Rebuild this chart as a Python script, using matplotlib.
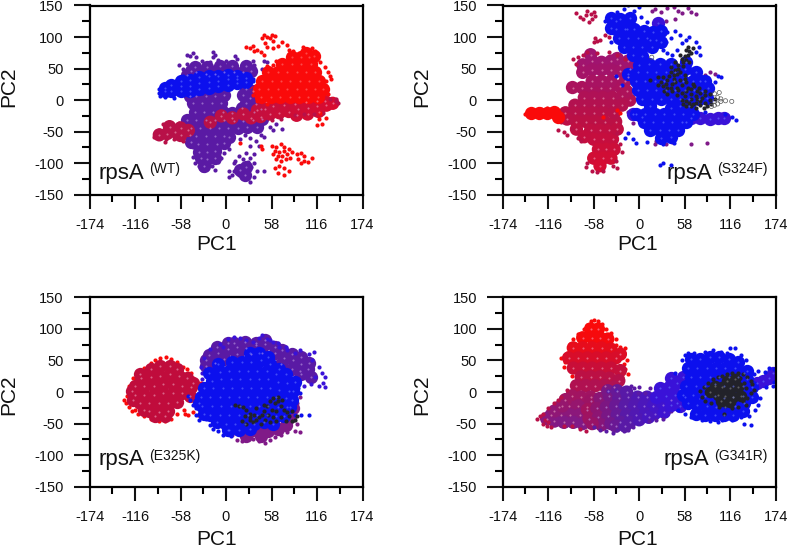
#!/usr/bin/env python3
# PCA scatter panels for the four rpsA variants
import matplotlib
matplotlib.use('Agg')
import matplotlib.pyplot as plt
from matplotlib.colors import LinearSegmentedColormap

plt.rcParams['font.family'] = ['Liberation Sans', 'DejaVu Sans']
plt.rcParams['axes.unicode_minus'] = False

RED = '#fa0a0a'
CRIMSON = '#b81048'
MAGENTA = '#801a88'
PURPLE = '#5a1aa4'
BLUE = '#0c10ee'
INDIGO = '#3a12d8'
BLACK = '#22222a'

x_ticks = [-174, -116, -58, 0, 58, 116, 174]
y_ticks = [-150, -100, -50, 0, 50, 100, 150]

# ---- WT
wt_purple_core = [(-50,40),(-38,44),(-26,42),(-14,42),(-2,44),(10,44),(22,44),(32,46),(-45,46),
    (-38,6),(-26,6),(-14,6),(-2,8),(22,8),(30,4),(-42,-5),(-30,-5),(-18,-5),(-6,-5),(25,-5),
    (-40,-18),(-28,-18),(-16,-18),(-4,-18),(8,-20),(-50,-31),(-38,-31),(-26,-31),(-14,-31),(-2,-31),(10,-33),
    (22,-33),(34,-31),(46,-30),(-45,-44),(-33,-44),(-21,-44),(-9,-44),(3,-44),(15,-44),(27,-42),(39,-42),
    (-38,-57),(-26,-57),(-14,-57),(-2,-57),(-36,-70),(-24,-70),(-12,-70),(-2,-68),(-34,-82),(-24,-82),(-14,-80),
    (-32,-92),(-24,-94),(18,-110),(26,-106),(24,-118),
    (4,-58),(-46,-56),(-44,-66),(36,-18),(44,-14),(20,-12),(-46,6),(38,-6),(-28,-104),(-14,-92),(34,14),(26,18),
    (-40,52),(-24,52),(-8,54),(8,54),(26,54)]
wt_purple_dots = [(-50,72),(-46,70),(-42,75),(-38,68),(-30,62),(-20,60),(-16,76),(-17,68),(-14,72),(-10,64),(-6,58),
    (0,62),(8,60),(12,70),(14,66),(20,56),(26,60),(34,62),(36,56),(48,62),(52,60),(46,50),(-60,55),(-55,50),
    (-50,57),(-36,58),(-26,55),(-12,55),(12,55),(-48,-62),(-50,-55),(-42,-75),(-42,-90),(-40,-100),(-34,-104),
    (-30,-110),(-24,-106),(-18,-104),(-14,-110),(-10,-98),(-6,-92),(-2,-84),(4,-78),(10,-100),(14,-108),(8,-118),
    (4,-122),(16,-118),(22,-124),(30,-130),(36,-122),(40,-112),(48,-112),(30,-92),(36,-85),(30,-72),(38,-65),
    (42,-72),(30,-60),(48,-58),(60,-48),(72,-46),(64,-38),(18,-62),(24,-55),(44,-55),(56,-42),(12,-96),(22,-94),
    (28,-98),(32,-106),(16,-88),(26,-84),(36,-100),(4,-112),(10,-112)]
wt_crimson_core = [(-85,-55),(-75,-53),(-65,-50),(-72,-42),(-58,-44),(-48,-48),(-58,-56),
    (32,-28),(44,-26),(56,-22),(68,-20),(80,-18),(92,-14),(104,-12),(116,-10),(128,-8),(136,-5),
    (-6,-25),(8,-28),(22,-22),(74,-8),(88,-6),(102,-3),(116,-2),(126,-2),
    (60,-10),(50,-14),(40,-16),(90,-24),(104,-22),(118,-18),(-20,-35)]
wt_crimson_dots = [(-92,-58),(-90,-52),(-85,-48),(-80,-38),(-76,-62),(-72,-36),(-66,-62),(-55,-65),(-78,-66),
    (-60,-36),(140,-2),(143,-5),(140,2),(132,2),(100,-22),(112,-22),(124,-20),(88,-24),(70,-30),(58,-32)]
wt_red_core = [(45,5),(57,5),(69,5),(81,5),(93,5),(105,5),(117,5),(42,18),(54,18),(66,18),(78,18),(90,18),
    (102,18),(114,18),(124,18),(46,31),(58,31),(70,31),(82,31),(94,31),(106,31),(118,31),(54,44),(66,44),
    (78,44),(90,44),(102,44),(114,44),(72,57),(84,57),(96,57),(108,57),(84,68),(96,68),(106,68),(102,74),(112,70)]
wt_red_dots = [(26,84),(30,82),(34,86),(36,78),(40,80),(44,76),(48,72),(50,90),(46,98),(48,104),(52,100),(56,98),
    (58,104),(62,102),(60,94),(52,84),(60,82),(66,86),(72,92),(78,88),(80,80),(86,78),(98,84),(104,80),(110,82),
    (114,78),(116,70),(120,60),(126,52),(130,45),(132,38),(128,30),(134,34),(36,14),(30,22),(34,8),(40,-2),(52,-6),
    (124,8),(130,10),(120,-20),(118,-30),(122,-38),(116,-40),(128,-28),(60,56),(52,54),(64,62),
    (58,-72),(64,-74),(70,-70),(74,-74),(62,-80),(68,-82),(74,-80),(80,-78),(60,-86),(66,-88),(72,-88),(78,-86),
    (84,-82),(90,-86),(64,-94),(70,-96),(76,-94),(82,-92),(96,-84),(100,-88),(92,-94),(100,-96),(110,-92),(104,-98),
    (68,-104),(74,-108),(80,-112),(66,-116),(74,-118),(62,-108),(96,-100),(18,-68),(44,-72),(46,-78)]
wt_blue_core = [(-78,14),(-78,20),(-70,15),(-70,24),(-58,14),(-58,22),(-58,30),(-46,14),(-46,23),(-46,32),
    (-34,18),(-34,27),(-34,36),(-22,20),(-22,29),(-22,38),(-10,22),(-10,31),(-10,39),(2,24),(2,33),(2,40),
    (14,27),(14,34),(14,39),(26,29),(26,35)]
wt_blue_dots = [(-86,12),(-85,18),(-84,6),(-78,5),(-72,28),(-66,4),(-64,30),(-55,38),(-40,10),(34,30),(35,34),(30,26),(-30,12)]

# ---- S324F
s3_crimson_core = [(-72,56),(-60,62),(-48,60),(-36,62),(-24,56),(-72,44),(-60,48),(-48,48),(-36,48),(-24,46),
    (-12,50),(-85,20),(-73,20),(-61,20),(-49,20),(-37,20),(-25,22),(-60,30),(-48,30),(-36,30),(-18,30),
    (-70,4),(-58,4),(-46,4),(-34,4),(-22,6),(-12,0),(-82,-8),(-70,-8),(-58,-8),(-46,-8),(-34,-8),(-22,-8),
    (-94,-20),(-82,-20),(-70,-20),(-58,-20),(-46,-20),(-80,-34),(-68,-34),(-56,-34),(-44,-34),(-62,-48),(-50,-48),
    (-38,-48),(-58,-62),(-46,-62),(-34,-62),(-52,-78),(-42,-78),(-32,-78),(-58,-92),(-46,-92),(-36,-92),(-50,-104),
    (-92,-30),(-80,-46),(-30,-34),(-28,-46),(-32,-20),(-70,-58),(-16,14),(-14,36),(-14,62),(-28,66),(-62,72)]
s3_crimson_dots = [(-80,138),(-76,132),(-72,128),(-68,135),(-66,142),(-62,136),(-60,128),(-58,140),(-56,134),(-64,124),
    (-56,98),(-58,92),(-54,94),(-50,96),(-44,104),(-38,100),(-85,65),(-78,68),(-80,58),(-72,72),(-66,76),(-54,74),(-38,76),
    (-28,72),(-18,66),(-100,-35),(-104,-48),(-96,-50),(-92,-56),(-86,-46),(-78,-60),(-74,-65),(-28,-52),(-24,-70),
    (-22,-82),(-30,-96),(-66,-100),(-68,-106),(-60,-112),(-54,-114),(-46,-112),(-34,-104),(-28,-108)]
s3_red_core = [(-138,-21),(-128,-21),(-118,-20),(-108,-18),(-104,-26)]
s3_red_dots = [(-145,-22),(-142,-20),(-140,-25),(-125,-14),(-118,-12),(-28,-16),(-24,-20),(-46,-26)]
s3_magenta_dots = [(20,145),(16,142),(28,140),(36,146),(44,148),(50,142),(54,138),(62,146),(66,140),(72,136),(46,128),
    (34,126),(60,44),(68,42),(76,46),(84,40),(90,44),(96,42),(72,36),(80,36),(66,-70),(86,-68),(34,-70),(20,-70),
    (-14,-18),(-10,-28),(-8,-36),(42,-66),(22,-64)]
s3_indigo_core = [(66,-28),(78,-28),(90,-30),(100,-28),(108,-28),(-8,-22),(4,-26),(24,122),(14,96),(-16,112)]
s3_blue_core = [(-36,130),(-24,128),(-12,130),(-30,112),(-18,112),(-6,112),(6,110),(18,108),(-26,98),(-14,98),
    (-2,98),(10,98),(22,96),(-20,84),(-8,84),(4,84),(16,84),(-8,72),(4,70),(-14,42),(-2,44),(10,44),(22,44),
    (34,44),(46,44),(58,50),(0,56),(12,58),(26,58),(40,58),(-4,30),(8,30),(20,30),(32,30),(44,30),(56,30),(68,30),
    (-2,16),(10,16),(22,16),(34,16),(46,16),(58,16),(70,16),(80,14),(4,2),(16,2),(28,2),(40,2),(52,2),(64,2),(76,2),(86,4),
    (14,-10),(40,-12),(52,-10),(64,-10),(-4,-22),(8,-22),(20,-22),(32,-22),(44,-22),(56,-22),(68,-22),
    (6,-35),(18,-35),(30,-35),(42,-35),(54,-35),(14,-48),(26,-48),(38,-48),(50,-48),(28,-60),(40,-58),
    (72,44),(84,30),(88,20),(78,30),(60,60),(28,110),(28,92),(60,-34),(-30,126),(-36,114)]
s3_blue_dots = [(-44,125),(-40,118),(-28,140),(-20,145),(-14,150),(-6,142),(0,148),(2,132),(10,124),(-36,92),(26,118),
    (36,108),(46,110),(52,104),(60,96),(64,100),(72,92),(76,84),(72,76),(78,72),(30,80),(36,74),(100,38),(104,36),(96,28),
    (90,20),(-6,24),(-14,-52),(-8,-62),(-4,-68),(-18,-60),(10,-66),(30,-70),(44,-68),(26,-103),(30,-100),(40,-103),(110,-22),
    (118,-26),(124,-32),(84,-18),(-30,38),(-22,24),(42,72),(48,80),(54,90),(34,92),(40,98)]
s3_black_dots = [(60,80),(62,84),(64,78),(66,74),(58,70),(54,66),(60,64),(64,60),(50,56),(56,54),(46,48),(52,44),(40,44),
    (30,36),(36,32),(44,34),(52,32),(58,40),(24,24),(30,22),(36,20),(42,26),(48,20),(54,24),(60,28),(36,10),(42,14),(48,8),
    (54,12),(60,14),(66,10),(66,18),(72,6),(78,12),(84,8),(90,10),(54,0),(60,-2),(66,2),(72,-4),(78,-2),(66,-10),(72,-12),
    (78,-8),(84,-4),(90,0),(96,2),(60,-10),(68,-6),(74,2),(86,-10),(14,32),(24,36),(92,-6),(70,22),(40,52),(46,60),(52,72),
    (38,38),(46,28),(50,16),(58,6),(62,20),(68,26),(74,14),(80,4),(32,14),(28,28),(44,40),(50,50),(56,60),(62,72),(68,82),
    (40,20),(34,26),(76,20),(84,14),(56,-6),(64,-4),(82,-12),(58,34),(48,42)]
s3_open_dots = [(16,68),(92,-10),(96,-8),(100,-6),(104,-2),(110,-1),(118,-2),(96,-2),(100,4),(104,2),(96,10),(102,12)]

# ---- E325K
e3_crimson_core = [(-96,36),(-84,42),(-72,42),(-108,22),(-96,24),(-84,26),(-72,28),(-60,26),(-50,22),(-116,10),(-104,10),
    (-92,10),(-80,12),(-68,12),(-56,10),(-44,8),(-116,-4),(-104,-4),(-92,-4),(-80,-2),(-68,-2),(-56,-2),(-46,-6),(-110,-18),
    (-98,-18),(-86,-18),(-74,-18),(-62,-16),(-98,-30),(-86,-32),(-74,-30),(-90,-38),(-78,-38),
    (-118,-12),(-120,2),(-110,28),(-62,36),(-42,14),(-104,-28)]
e3_red_dots = [(-130,-12),(-128,-18),(-126,-6),(-124,-24),(-122,4),(-120,14),(-118,22),(-112,30),(-104,38),(-96,46),(-90,50),
    (-84,54),(-76,56),(-70,52),(-62,48),(-55,40),(-50,36),(-44,30),(-120,-30),(-112,-34),(-104,-38),(-96,-42),(-86,-46),(-78,-46),
    (-70,-42),(-62,-34),(-54,-28),(-38,18),(-32,14),(-28,8),(-42,-32),(-48,-36),(-52,-34),(-36,-36),(-124,-10),(-124,10),(-116,-28),
    (-108,34),(-66,44),(-60,40),(-48,30),(-42,22),(-36,10)]
e3_purple_core = [(-26,42),(-14,46),(-2,52),(-22,58),(-10,62),(2,68),(14,72),(26,70),(38,74),(50,76),(62,62),(74,54),(86,50),
    (96,44),(104,36),(96,28),(84,36),(108,24),(32,60),(46,62),(62,72),(72,66),(14,60),(84,60),(10,78),(38,78),
    (-26,50),(-12,72),(2,78),(24,80),(50,82),(96,56),(106,46),(94,34),(70,44)]
e3_purple_dots = [(-32,40),(-30,30),(-28,54),(-30,20),(-20,68),(-8,76),(2,84),(10,88),(18,86),(26,82),(34,80),(42,86),(46,90),
    (52,84),(60,80),(68,72),(78,66),(88,62),(94,66),(106,60),(112,64),(110,50),(118,40),(122,30),(126,24),(124,14),(118,10),(126,8),
    (114,24),(108,12),(100,10),(-4,72),(56,82),(66,78),(76,72)]
e3_magenta_core = [(18,-60),(30,-62),(42,-64),(54,-62),(66,-58),(76,-52),(82,-40),(86,-26),(26,-70),(44,-70)]
e3_magenta_dots = [(14,-76),(20,-78),(26,-72),(34,-74),(42,-78),(50,-80),(56,-76),(62,-72),(70,-68),(78,-64),(88,-62),(94,-64),
    (90,-50),(94,-8),(90,-18),(2,-65),(8,-68)]
e3_blue_core = [(8,48),(20,48),(32,48),(44,50),(56,44),(68,36),(-8,32),(4,34),(16,34),(28,34),(40,34),(52,34),(64,28),(76,28),
    (-18,18),(-6,20),(6,20),(18,20),(30,20),(42,20),(54,20),(66,16),(78,14),(-28,6),(-16,6),(-4,6),(8,6),(20,6),(32,6),(44,6),(56,6),
    (68,4),(80,2),(-32,-8),(-20,-8),(-8,-8),(4,-8),(16,-8),(28,-8),(40,-8),(52,-8),(64,-8),(76,-10),(-30,-22),(-18,-22),(-6,-22),
    (6,-22),(18,-22),(30,-22),(42,-22),(54,-22),(66,-24),(78,-24),(-20,-36),(-8,-36),(4,-36),(16,-36),(28,-36),(40,-36),(52,-36),(64,-38),
    (-12,-48),(0,-50),(12,-50),(24,-50),(36,-50),(48,-48),(4,-60),(30,62),(42,62),(54,56),
    (88,16),(86,2),(84,-12),(82,-24),(74,-38),(60,-50),(-34,-18),(-28,-34),(-22,30),(-10,44),(2,-60),(16,-60),(30,-58)]
e3_blue_dots = [(-48,-6),(-46,-12),(-42,-20),(-38,-26),(-38,-36),(-34,-44),(-26,-42),(-24,-36),(-28,-38),(-20,-52),(-16,-58),(-10,-62),
    (-4,-68),(6,-70),(96,-36),(106,-36),(88,-36),(92,6),(94,-2)]
e3_black_dots = [(12,-20),(16,-22),(22,-24),(26,-28),(30,-34),(24,-38),(30,-44),(36,-36),(38,-44),(42,-40),(48,-30),(52,-22),(56,-14),
    (60,-10),(62,-18),(58,-28),(66,-14),(70,-22),(74,-28),(80,-38),(84,-46),(70,-40),(64,-46),(56,-48),(60,-40),(50,-44),(46,-36),(38,-26),
    (76,-46),(88,-44),(64,-30),(54,-36),(44,-50),(30,-40),(66,-8),(48,-20),(20,-46),(26,-50),(34,-48),(78,-32),(84,-30),(90,-38),(72,-12)]

# ---- G341R
g3_red_core = [(-62,100),(-52,100),(-72,86),(-60,86),(-50,86),(-40,84),(-84,70),(-72,70),(-60,70),(-48,70),(-36,68),(-24,60),
    (-90,54),(-78,54),(-66,54),(-54,54),(-42,54),(-30,54),(-84,38),(-72,38),(-60,38),(-48,38),(-36,38),(-24,34)]
g3_red_dots = [(-62,112),(-58,114),(-52,112),(-48,108),(-66,106),(-70,100),(-78,92),(-84,84),(-88,76),(-92,62),(-100,54),(-94,48),(-96,40),
    (-86,26),(-30,74),(-24,72),(-18,70),(-20,62),(-16,50),(-20,44),(-18,36),(-14,28),(-22,24),(-42,100),(-36,94),(-30,84)]
g3_crimson_core = [(-74,24),(-62,24),(-50,24),(-38,22),(-26,18),(-80,10),(-68,10),(-56,10),(-44,10),(-32,8),(-86,-6),(-74,-8),(-62,-8),
    (-102,-24),(-90,-22),(-78,-22),(-66,-24),(-112,-36),(-100,-36),(-88,-36),(-76,-36),(-108,-46),(-96,-48),(-84,-48),(-72,-50),
    (-118,-42),(-108,-30),(-94,-12),(-98,-22)]
g3_crimson_dots = [(-130,-42),(-126,-38),(-122,-34),(-120,-44),(-116,-26),(-118,-54),(-112,-56),(-108,-18),(-104,-12),(-100,-8),(-92,4),(-86,-54),
    (-76,-58),(-68,-62),(-116,-48),(-122,-50),(-96,-54)]
g3_purple_core = [(-62,-14),(-50,-10),(-38,-6),(-26,-10),(-14,-8),(-2,-8),(10,-8),(-66,-28),(-54,-26),(-42,-24),(-30,-22),(-18,-22),(-6,-22),(6,-22),
    (18,-22),(30,-20),(-64,-42),(-52,-40),(-40,-38),(-28,-36),(-16,-36),(-4,-36),(8,-34),(20,-34),(32,-32),(-48,-52),(-36,-50),(-24,-48),(-12,-48),(0,-44),
    (-30,-54),(-18,-54),(-60,-50),(-40,2),(-28,2),(-16,0),(40,-12),(12,-40)]
g3_purple_dots = [(-42,-62),(-34,-65),(-28,-60),(-20,-62),(-14,-60),(-8,-56),(-50,-60),(-58,-56),(12,-46),(22,-44),(30,-42),(40,-30),(-18,6),(-10,10),(-6,6),
    (0,8),(-12,2),(-30,4),(-40,2),(8,-2),(14,6),(-2,-2)]
g3_indigo_core = [(26,6),(38,8),(48,14),(22,-8),(34,-6),(46,-4),(40,-20),(48,-18),(58,-8),(40,22),(56,24),(52,-22),(150,14),(158,18),(166,22),(170,30)]
g3_blue_core = [(66,52),(78,52),(90,56),(102,56),(114,52),(62,38),(74,38),(86,38),(98,38),(110,38),(122,38),(134,30),(66,24),(78,24),(90,24),(102,24),(114,24),
    (126,24),(138,20),(60,10),(72,10),(84,10),(96,12),(144,8),(56,-4),(68,-4),(62,-18),(74,-20),(86,-22),(98,-24),(110,-24),(122,-22),(134,-18),(144,-8),
    (72,-34),(84,-36),(96,-36),(108,-36),(120,-36),(132,-30),
    (84,-6),(96,-6),(108,-10),(120,-8),(132,-6),(108,10),(120,10),(132,10),(126,48),(138,34)]
g3_blue_dots = [(54,50),(58,58),(62,62),(70,62),(84,64),(94,66),(104,64),(112,62),(116,70),(122,70),(130,58),(136,50),(128,52),(46,30),(50,-28),(58,-34),(66,-40),
    (80,-44),(90,-46),(100,-48),(106,-44),(118,-44),(130,-40),(134,-50),(142,-52),(140,-38),(148,-28),(152,-20),(154,-10),(162,8),(170,10),(172,16),(172,36),(166,38),(160,32),
    (152,34),(146,28)]
g3_black_core = [(90,0),(100,-4),(110,-6),(120,-8),(130,-6),(96,10),(106,8),(116,6),(126,8),(112,18),(122,20),(104,-14),(116,-16)]
g3_black_dots = [(78,2),(80,-8),(82,8),(84,-14),(88,14),(92,-18),(94,20),(100,24),(106,26),(112,28),(118,30),(126,30),(132,28),(138,24),(142,18),(144,12),(146,4),(142,-2),(138,-10),(136,-20),
    (126,-24),(118,-26),(110,-22),(102,-24),(108,-34),(134,14),(136,6),(132,-14),(128,22)]


def draw(ax, points, color, size, speckle=None):
    xs = [p[0] for p in points]
    ys = [p[1] for p in points]
    ax.scatter(xs, ys, s=size, c=color, linewidths=0, zorder=3)
    if speckle:
        ax.scatter(xs, ys, s=2.2, c=speckle, linewidths=0, alpha=0.55, zorder=4)


def draw_grad(ax, points, colors, size, axis, lo, hi, speckle=None):
    # colour runs along x or y like the trajectory colouring does
    xs = [p[0] for p in points]
    ys = [p[1] for p in points]
    cmap = LinearSegmentedColormap.from_list('traj', colors)
    ax.scatter(xs, ys, s=size, c=(xs if axis == 'x' else ys), cmap=cmap, vmin=lo, vmax=hi, linewidths=0, zorder=3)
    if speckle:
        ax.scatter(xs, ys, s=2.2, c=speckle, linewidths=0, alpha=0.55, zorder=4)


def setup(ax, name, name_xy, sup, sup_xy, xlab_x, ylab_y, xlab_y):
    ax.set_xlim(-174, 174)
    ax.set_ylim(-150, 150)
    ax.set_xticks(x_ticks)
    ax.set_yticks(y_ticks)
    ax.set_xticks([-145, -87, -29, 29, 87, 145], minor=True)
    ax.set_yticks([-125, -75, -25, 25, 75, 125], minor=True)
    ax.tick_params(axis='x', which='major', length=10, width=1.5, pad=7, labelsize=10.5, colors='#111111')
    ax.tick_params(axis='y', which='major', length=11.5, width=1.5, pad=7, labelsize=10.5, colors='#111111')
    ax.tick_params(axis='x', which='minor', length=5, width=1.5)
    ax.tick_params(axis='y', which='minor', length=6, width=1.5)
    for s in ax.spines.values():
        s.set_linewidth(1.6)
        s.set_zorder(5)
    ax.set_xlabel('PC1', fontsize=15, color='#111111')
    ax.set_ylabel('PC2', fontsize=15, color='#111111')
    ax.xaxis.label.set_va('baseline')
    ax.yaxis.label.set_va('center')
    ax.xaxis.set_label_coords(xlab_x, xlab_y)
    ax.yaxis.set_label_coords(-0.297, ylab_y)
    ax.text(name_xy[0], name_xy[1], name, fontsize=16, color='#111111', zorder=6)
    ax.text(sup_xy[0], sup_xy[1], sup, fontsize=10, color='#111111', zorder=6)


def make_axes(fig, left, top):
    W, H = 787.0, 548.0
    return fig.add_axes([left / W, 1 - (top + 189.3) / H, 273 / W, 189.3 / H])


fig = plt.figure(figsize=(7.87, 5.48), dpi=100, facecolor='white')
CORE = 92
DOT = 9
PINK = '#f0b0c8'
LILAC = '#c8a8e8'
SKY = '#7080ff'

ax = make_axes(fig, 89.5, 5.5)
draw(ax, wt_purple_core, PURPLE, CORE, LILAC)
draw(ax, wt_purple_dots, PURPLE, DOT)
draw_grad(ax, wt_crimson_core, [CRIMSON, '#d80c30'], CORE, 'x', -20, 130, PINK)
draw(ax, wt_crimson_dots, CRIMSON, DOT)
draw(ax, wt_red_core, RED, CORE, '#ff8080')
draw(ax, wt_red_dots, RED, DOT)
draw(ax, wt_blue_core, BLUE, CORE, SKY)
draw(ax, wt_blue_dots, BLUE, DOT)
setup(ax, 'rpsA', (-163, -125), '(WT)', (-98, -115), 0.464, 0.57, -0.29)

ax = make_axes(fig, 502.7, 5.5)
draw_grad(ax, s3_crimson_core, ['#d80c30', CRIMSON, '#a01470'], CORE, 'y', -110, 60, PINK)
draw(ax, s3_crimson_dots, CRIMSON, DOT)
draw(ax, s3_red_core, RED, CORE)
draw(ax, s3_red_dots, RED, DOT)
draw(ax, s3_magenta_dots, MAGENTA, DOT)
draw(ax, s3_indigo_core, INDIGO, CORE, SKY)
draw(ax, s3_blue_core, BLUE, CORE, SKY)
draw(ax, s3_blue_dots, BLUE, DOT)
draw(ax, s3_black_dots, BLACK, DOT)
ax.scatter([p[0] for p in s3_open_dots], [p[1] for p in s3_open_dots], s=9, facecolors='none',
           edgecolors='#555555', linewidths=0.5, zorder=3)
setup(ax, 'rpsA', (35, -125), '(S324F)', (99, -115), 0.495, 0.57, -0.29)

ax = make_axes(fig, 89.5, 297.4)
draw(ax, e3_purple_core, PURPLE, CORE, LILAC)
draw(ax, e3_purple_dots, INDIGO, DOT)
draw(ax, e3_magenta_core, MAGENTA, CORE)
draw(ax, e3_magenta_dots, MAGENTA, DOT)
draw(ax, e3_red_dots, RED, DOT)
draw(ax, e3_crimson_core, '#c00c3c', CORE, PINK)
draw(ax, e3_blue_core, BLUE, CORE, SKY)
draw(ax, e3_blue_dots, BLUE, DOT)
draw(ax, e3_black_dots, BLACK, DOT)
setup(ax, 'rpsA', (-163, -116), '(E325K)', (-98, -108), 0.464, 0.484, -0.307)

ax = make_axes(fig, 502.7, 297.4)
draw(ax, g3_red_dots, RED, DOT)
draw_grad(ax, g3_red_core + g3_crimson_core, [MAGENTA, CRIMSON, RED], CORE, 'y', -50, 90, PINK)
draw(ax, g3_crimson_dots, CRIMSON, DOT)
draw_grad(ax, g3_purple_core, [CRIMSON, PURPLE, INDIGO], CORE, 'x', -80, 40, LILAC)
draw(ax, g3_purple_dots, PURPLE, DOT)
draw(ax, g3_indigo_core, INDIGO, CORE, SKY)
draw(ax, g3_blue_core, BLUE, CORE, SKY)
draw(ax, g3_blue_dots, BLUE, DOT)
draw(ax, g3_black_core, BLACK, 70, '#909090')
draw(ax, g3_black_dots, BLACK, DOT)
setup(ax, 'rpsA', (31, -116), '(G341R)', (95, -107), 0.495, 0.484, -0.307)

fig.savefig('out.png', dpi=100)
